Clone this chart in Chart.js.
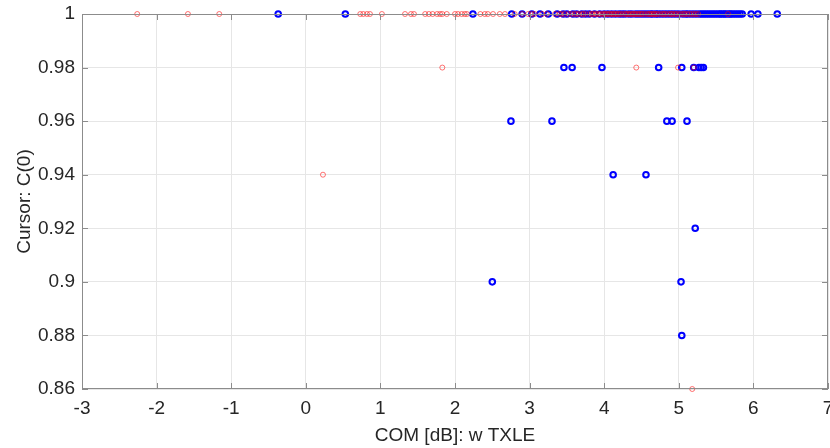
<!DOCTYPE html>
<html>
<head>
<meta charset="utf-8">
<script src="https://cdn.jsdelivr.net/npm/chart.js@4/dist/chart.umd.min.js"></script>
<style>
    html, body { margin: 0; padding: 0; background: #ffffff; }
    #wrap { width: 830px; height: 448px; }
</style>
</head>
<body>
<div id="wrap"><canvas id="scatter"></canvas></div>
<script>
// red series (without TXLE) - COM [dB] vs cursor C(0)
var redCom = [
    -2.26, -1.58, -1.16, 0.73, 0.77, 0.82, 0.86, 1.02, 1.33, 1.41, 1.45, 1.6, 1.65, 1.7,
    1.76, 1.8, 1.83, 1.89, 2.0, 2.04, 2.09, 2.13, 2.16, 2.34, 2.4, 2.44, 2.51, 2.6, 2.67,
    2.8, 2.9, 2.98, 3.03, 3.07, 3.17, 3.23, 3.34, 3.4, 3.47, 3.52, 3.6, 3.66, 3.75, 3.8,
    3.85, 3.9, 3.95, 4.0, 4.04, 4.08, 4.12, 4.16, 4.2, 4.25, 4.3, 4.34, 4.38, 4.42, 4.46,
    4.5, 4.55, 4.6, 4.64, 4.68, 4.72, 4.78, 4.82, 4.88, 4.92, 4.97, 5.03, 5.08, 5.14, 5.2,
    5.26, 5.66,
    3.43, 3.56, 3.63, 3.7, 3.72, 3.83, 3.88, 3.93, 3.98, 4.02, 4.06, 4.1, 4.14, 4.18,
    4.22, 4.28, 4.32, 4.36, 4.4, 4.44, 4.48, 4.52, 4.58, 4.62, 4.66, 4.7, 4.75, 4.8,
    4.85, 4.9, 4.95, 5.0, 5.06, 5.11, 5.17, 5.23,
    1.83, 4.43, 4.99, 5.2,
    0.23,
    5.18
];
var redCursor = [
    1, 1, 1, 1, 1, 1, 1, 1, 1, 1, 1, 1, 1, 1,
    1, 1, 1, 1, 1, 1, 1, 1, 1, 1, 1, 1, 1, 1, 1,
    1, 1, 1, 1, 1, 1, 1, 1, 1, 1, 1, 1, 1, 1, 1,
    1, 1, 1, 1, 1, 1, 1, 1, 1, 1, 1, 1, 1, 1, 1,
    1, 1, 1, 1, 1, 1, 1, 1, 1, 1, 1, 1, 1, 1, 1,
    1, 1,
    1, 1, 1, 1, 1, 1, 1, 1, 1, 1, 1, 1, 1, 1,
    1, 1, 1, 1, 1, 1, 1, 1, 1, 1, 1, 1, 1, 1,
    1, 1, 1, 1, 1, 1, 1, 1,
    0.98, 0.98, 0.98, 0.98,
    0.94,
    0.86
];

// blue series (w TXLE)
var blueCom = [
    -0.37, 0.53, 2.24, 2.76, 2.9, 3.03, 3.14, 3.25, 3.37, 3.45, 3.58, 3.7, 3.8, 3.94,
    4.05, 4.15, 4.24, 4.33, 4.42, 4.5, 4.58, 4.65, 4.72, 4.8, 4.88, 4.96, 5.05, 5.12,
    5.2, 5.28, 5.34, 5.4, 5.46, 5.52, 5.57, 5.62, 5.68, 5.73, 5.79, 5.85, 5.97, 6.06, 6.32,
    3.5, 3.63, 3.75, 3.87, 4.0, 4.1, 4.2, 4.28, 4.37, 4.46, 4.54, 4.62, 4.69, 4.76, 4.84,
    4.92, 5.0, 5.09, 5.16, 5.24, 5.31, 5.37, 5.43, 5.49, 5.55, 5.6, 5.65, 5.7, 5.76, 5.82,
    3.46, 3.57, 3.97, 4.73, 5.04, 5.2, 5.27, 5.3, 5.33,
    2.75, 3.3, 4.84, 4.91, 5.11,
    4.12, 4.56,
    5.22,
    2.5, 5.03,
    5.04
];
var blueCursor = [
    1, 1, 1, 1, 1, 1, 1, 1, 1, 1, 1, 1, 1, 1,
    1, 1, 1, 1, 1, 1, 1, 1, 1, 1, 1, 1, 1, 1,
    1, 1, 1, 1, 1, 1, 1, 1, 1, 1, 1, 1, 1, 1, 1,
    1, 1, 1, 1, 1, 1, 1, 1, 1, 1, 1, 1, 1, 1, 1,
    1, 1, 1, 1, 1, 1, 1, 1, 1, 1, 1, 1, 1, 1, 1,
    0.98, 0.98, 0.98, 0.98, 0.98, 0.98, 0.98, 0.98, 0.98,
    0.96, 0.96, 0.96, 0.96, 0.96,
    0.94, 0.94,
    0.92,
    0.9, 0.9,
    0.88
];

var xTicks = [-3, -2, -1, 0, 1, 2, 3, 4, 5, 6, 7];
var yTicks = [0.86, 0.88, 0.9, 0.92, 0.94, 0.96, 0.98, 1];

function toPoints(xs, ys) {
    var pts = [];
    for (var i = 0; i < xs.length; i++) {
        pts.push({ x: xs[i], y: ys[i] });
    }
    return pts;
}

// box around the axes with inward ticks, matlab style
var boxPlugin = {
    id: 'box',
    afterDatasetsDraw: function(chart) {
        var ctx = chart.ctx;
        var a = chart.chartArea;
        var xs = chart.scales.x, ys = chart.scales.y;
        ctx.save();
        ctx.strokeStyle = '#8c8c8c';
        ctx.lineWidth = 1;
        ctx.strokeRect(a.left + 0.5, a.top + 0.5, a.right - a.left - 1, a.bottom - a.top - 1);
        ctx.beginPath();
        xTicks.forEach(function(t) {
            var px = Math.round(xs.getPixelForValue(t)) + 0.5;
            ctx.moveTo(px, a.bottom); ctx.lineTo(px, a.bottom - 6);
            ctx.moveTo(px, a.top); ctx.lineTo(px, a.top + 6);
        });
        yTicks.forEach(function(t) {
            var py = Math.round(ys.getPixelForValue(t)) + 0.5;
            ctx.moveTo(a.left, py); ctx.lineTo(a.left + 6, py);
            ctx.moveTo(a.right, py); ctx.lineTo(a.right - 6, py);
        });
        ctx.stroke();
        ctx.restore();
    }
};

var fontFam = '"Liberation Sans", Arial, sans-serif';

new Chart(document.getElementById('scatter'), {
    type: 'scatter',
    data: {
        datasets: [{
            label: 'w/o TXLE',
            data: toPoints(redCom, redCursor),
            pointStyle: 'circle',
            pointRadius: 2.5,
            pointBorderWidth: 1,
            pointBorderColor: 'rgba(255,0,0,0.55)',
            pointBackgroundColor: 'rgba(0,0,0,0)',
            clip: false
        }, {
            label: 'w TXLE',
            data: toPoints(blueCom, blueCursor),
            pointStyle: 'circle',
            pointRadius: 2.8,
            pointBorderWidth: 2,
            pointBorderColor: '#0000ff',
            pointBackgroundColor: 'rgba(0,0,0,0)',
            clip: false
        }]
    },
    options: {
        responsive: true,
        maintainAspectRatio: false,
        animation: false,
        layout: { autoPadding: false, padding: { left: 0, top: 14, right: 2, bottom: 0 } },
        plugins: {
            legend: { display: false },
            tooltip: { enabled: false }
        },
        scales: {
            x: {
                type: 'linear',
                min: -3,
                max: 7,
                afterFit: function(scale) {
                    scale.height = 59;
                    scale.paddingLeft = 0;
                    scale.paddingRight = 0;
                },
                afterBuildTicks: function(scale) {
                    scale.ticks = xTicks.map(function(v) { return { value: v }; });
                },
                grid: { color: '#e6e6e6', drawTicks: false },
                border: { display: false },
                ticks: {
                    padding: 8,
                    color: '#262626',
                    font: { family: fontFam, size: 19 },
                    maxRotation: 0
                },
                title: {
                    display: true,
                    text: 'COM [dB]: w TXLE',
                    color: '#262626',
                    font: { family: fontFam, size: 19 },
                    padding: { top: 0, bottom: 1 }
                }
            },
            y: {
                type: 'linear',
                min: 0.86,
                max: 1,
                afterFit: function(scale) {
                    scale.width = 82;
                    scale.paddingTop = 0;
                    scale.paddingBottom = 0;
                },
                afterBuildTicks: function(scale) {
                    scale.ticks = yTicks.map(function(v) { return { value: v }; });
                },
                grid: { color: '#e6e6e6', drawTicks: false },
                border: { display: false },
                ticks: {
                    padding: 7,
                    color: '#262626',
                    font: { family: fontFam, size: 19 },
                    callback: function(v) { return String(Number(v.toFixed(2))); }
                },
                title: {
                    display: true,
                    text: 'Cursor: C(0)',
                    color: '#262626',
                    font: { family: fontFam, size: 19 },
                    padding: { top: 13, bottom: 0 }
                }
            }
        }
    },
    plugins: [boxPlugin]
});
</script>
</body>
</html>
